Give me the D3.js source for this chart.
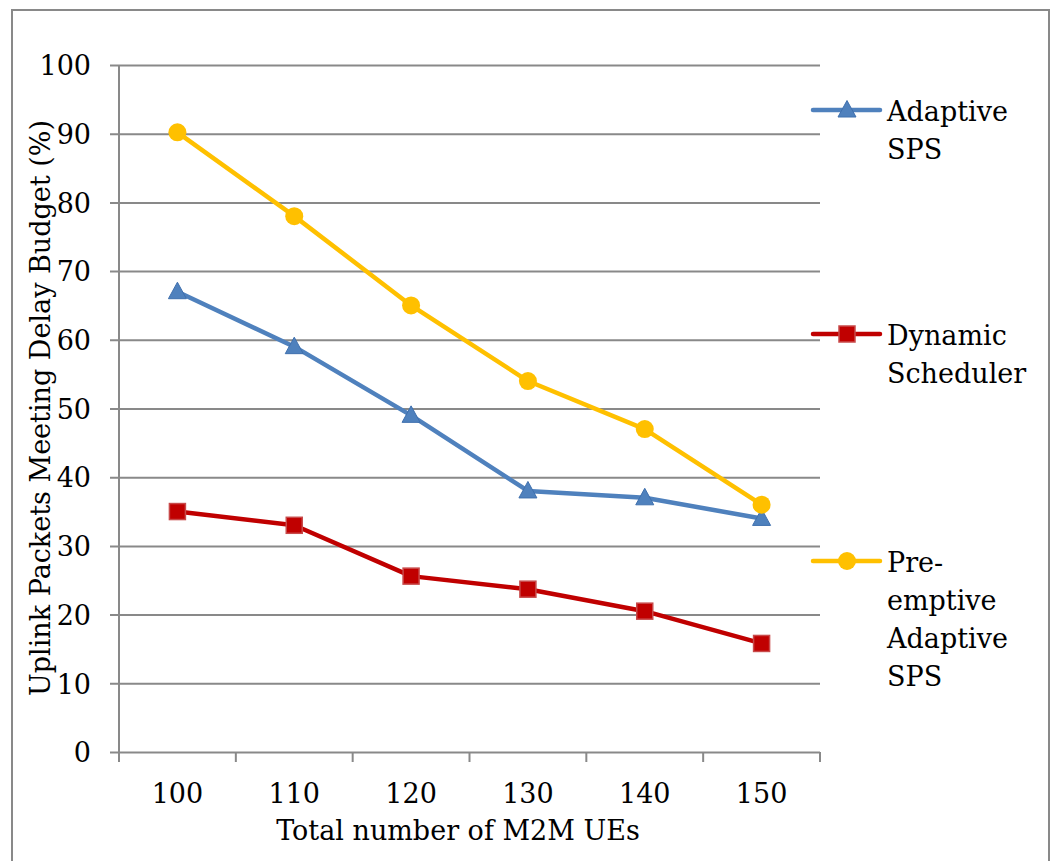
<!DOCTYPE html>
<html>
<head>
<meta charset="utf-8">
<script src="https://cdn.jsdelivr.net/npm/d3@7"></script>
<style>
  body { margin: 0; background: #fff; }
</style>
</head>
<body>
<div id="chart"></div>
<script>
// data
const ueCounts = [100, 110, 120, 130, 140, 150];
const adaptiveSps = [67, 59, 49, 38, 37, 34];
const dynamicScheduler = [35, 33, 25.6, 23.7, 20.5, 15.8];
const preemptiveSps = [90.2, 78, 65, 54, 47, 36];
const yTicks = [0, 10, 20, 30, 40, 50, 60, 70, 80, 90, 100];

const FONT = "DejaVu Serif";
const FS = 27;

const series = [
  {name: ["Adaptive", "SPS"], values: adaptiveSps, color: "#4F81BD", stroke: "#3F70AE", marker: "triangle", legendY: 110},
  {name: ["Dynamic", "Scheduler"], values: dynamicScheduler, color: "#C00000", stroke: "#C84A4A", marker: "square", legendY: 334},
  {name: ["Pre-", "emptive", "Adaptive", "SPS"], values: preemptiveSps, color: "#FFC000", stroke: "#FFC000", marker: "circle", legendY: 561}
];

const W = 1056, H = 861;
const margin = {top: 65, left: 119, right: 236, bottom: 109};
const width = W - margin.left - margin.right,
      height = H - margin.top - margin.bottom;

const svg = d3.select("#chart")
  .append("svg")
    .attr("width", W)
    .attr("height", H);

// outer frame (bottom edge runs off the picture)
svg.append("rect")
  .attr("x", 12).attr("y", 10)
  .attr("width", 1037).attr("height", 900)
  .attr("fill", "none")
  .attr("stroke", "#898989")
  .attr("stroke-width", 2);

const g = svg.append("g")
  .attr("transform", `translate(${margin.left},${margin.top})`);

const x = d3.scaleBand()
  .domain(ueCounts)
  .range([0, width]);

const y = d3.scaleLinear()
  .domain([0, 100])
  .range([height, 0]);

const cx = d => x(d) + x.bandwidth() / 2;

// horizontal gridlines + y labels
const yAxis = g.append("g")
  .call(d3.axisLeft(y).tickValues(yTicks).tickSize(0).tickPadding(28))
  .attr("font-family", FONT)
  .attr("font-size", FS);
yAxis.select(".domain").remove();
yAxis.selectAll(".tick line").remove();
yAxis.selectAll(".tick").append("line")
  .attr("x1", -9).attr("x2", width)
  .attr("stroke", "#898989").attr("stroke-width", 2);
yAxis.selectAll("text")
  .attr("fill", "#000")
  .attr("dy", "0.36em");

// vertical axis line
g.append("line")
  .attr("x1", 0).attr("x2", 0)
  .attr("y1", 0).attr("y2", height)
  .attr("stroke", "#898989").attr("stroke-width", 2);

// x axis: ticks between categories, labels in centre
const bounds = ueCounts.map(d => x(d)).concat([width]);
g.append("g")
  .selectAll("line")
  .data(bounds)
  .join("line")
    .attr("x1", d => d).attr("x2", d => d)
    .attr("y1", height).attr("y2", height + 10)
    .attr("stroke", "#898989").attr("stroke-width", 2);

g.append("g")
  .attr("font-family", FONT)
  .attr("font-size", FS)
  .selectAll("text")
  .data(ueCounts)
  .join("text")
    .attr("x", cx)
    .attr("y", height + 51)
    .attr("text-anchor", "middle")
    .text(d => d);

// axis titles
svg.append("text")
  .attr("x", 458).attr("y", 840)
  .attr("text-anchor", "middle")
  .attr("font-family", FONT)
  .attr("font-size", FS)
  .text("Total number of M2M UEs");

svg.append("text")
  .attr("transform", "translate(50,408) rotate(-90)")
  .attr("text-anchor", "middle")
  .attr("font-family", FONT)
  .attr("font-size", FS)
  .text("Uplink Packets Meeting Delay Budget (%)");

// marker helper
function drawMarker(sel, s) {
  if (s.marker === "circle") {
    sel.append("circle").attr("r", 9)
      .attr("fill", s.color);
  } else if (s.marker === "square") {
    sel.append("rect")
      .attr("x", -8).attr("y", -8).attr("width", 16).attr("height", 16)
      .attr("fill", s.color).attr("stroke", s.stroke).attr("stroke-width", 1.5);
  } else {
    sel.append("path")
      .attr("d", "M0,-9.5L9,7L-9,7Z")
      .attr("fill", s.color).attr("stroke", s.stroke).attr("stroke-width", 1);
  }
}

const line = d3.line()
  .x((d, i) => cx(ueCounts[i]))
  .y(d => y(d));

series.forEach(s => {
  g.append("path")
    .datum(s.values)
    .attr("fill", "none")
    .attr("stroke", s.color)
    .attr("stroke-width", 4.5)
    .attr("stroke-linejoin", "round")
    .attr("d", line);

  g.append("g")
    .selectAll("g")
    .data(s.values)
    .join("g")
      .attr("transform", (d, i) => `translate(${cx(ueCounts[i])},${y(d)})`)
      .each(function() { drawMarker(d3.select(this), s); });
});

// legend
series.forEach(s => {
  const lg = svg.append("g").attr("transform", `translate(813,${s.legendY})`);
  lg.append("line")
    .attr("x1", 0).attr("x2", 67)
    .attr("stroke", s.color).attr("stroke-width", 4.5)
    .attr("stroke-linecap", "round");
  drawMarker(lg.append("g").attr("transform", "translate(34,0)"), s);
  const t = lg.append("text")
    .attr("x", 74).attr("y", 11)
    .attr("font-family", FONT)
    .attr("font-size", FS);
  s.name.forEach((w, i) => {
    t.append("tspan").attr("x", 74).attr("dy", i === 0 ? 0 : 38).text(w);
  });
});
</script>
</body>
</html>
